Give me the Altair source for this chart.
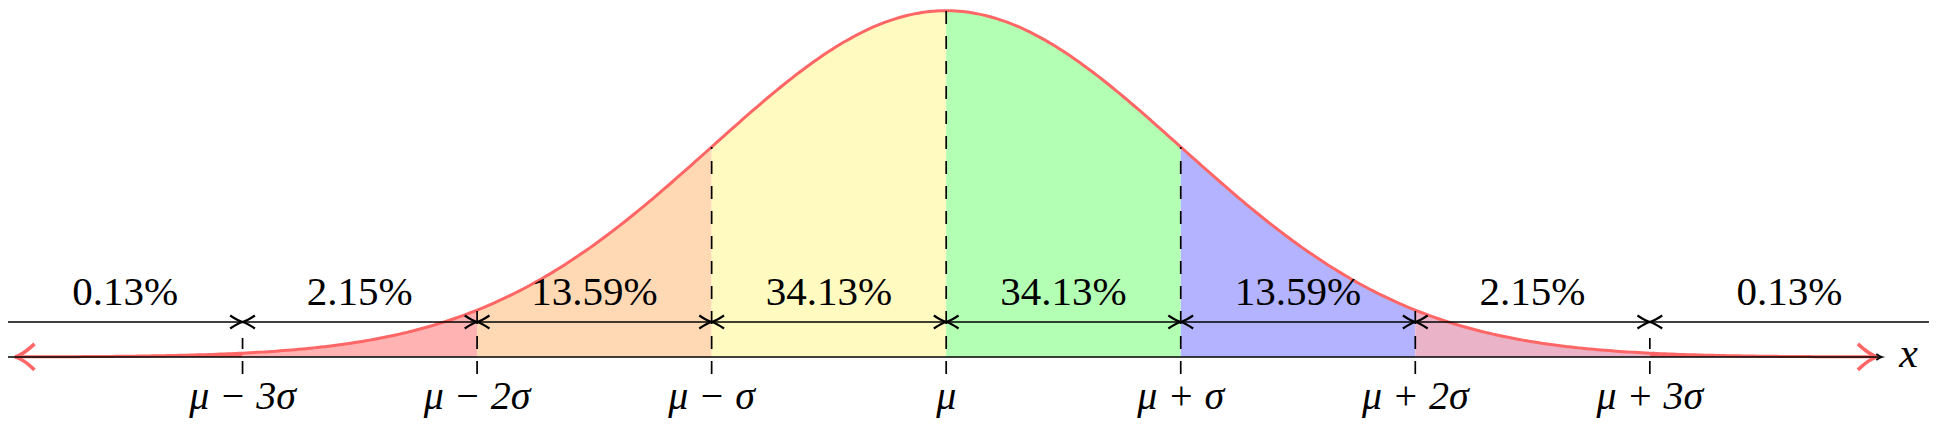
import numpy as np
import pandas as pd
import altair as alt

# ---------------- data ----------------
band_bounds = [-4.0, -3.0, -2.0, -1.0, 0.0, 1.0, 2.0, 3.0, 4.0]
band_names = ["t1", "b1", "b2", "b3", "b4", "b5", "b6", "t2"]
band_colors = ["#ff6666", "#ffb3b3", "#ffd9b3", "#fffac0",
               "#b3ffb3", "#b3b3ff", "#ebb3c8", "#ff6666"]
percent_labels = ["0.13%", "2.15%", "13.59%", "34.13%",
                  "34.13%", "13.59%", "2.15%", "0.13%"]
dim_bounds = [-4.0, -3.0, -2.0, -1.0, 0.0, 1.0, 2.0, 3.0, 4.19]
tick_values = [-3, -2, -1, 0, 1, 2, 3]
tick_labels = ["μ − 3σ", "μ − 2σ", "μ − σ", "μ", "μ + σ", "μ + 2σ", "μ + 3σ"]
curve_ends = [-3.97, 3.97]
axis_end = 3.99


def pdf(x):
    return np.exp(-0.5 * np.asarray(x, dtype=float) ** 2) / np.sqrt(2 * np.pi)


# ---------------- layout constants (page pixel rows -> data) ----------------
PX = 868.0          # pixels per density unit
BASE = 357.0        # baseline page row


def yd(row):
    return (BASE - row) / PX


X_DOMAIN = [-4.0, 4.1945]
Y_DOMAIN = [yd(418), yd(8)]
DIM_Y = yd(322)
PCT_Y = yd(305)
TICK_LABEL_Y = yd(409)
TICK_BOTTOM = yd(374)
TICK_MIN_TOP = yd(338)

xs = alt.Scale(domain=X_DOMAIN, nice=False, zero=False)
ys = alt.Scale(domain=Y_DOMAIN, nice=False, zero=False)
X = lambda f: alt.X(f, type="quantitative", scale=xs, axis=None)
Y = lambda f: alt.Y(f, type="quantitative", scale=ys, axis=None)

# areas, one layer per band
area_layers = []
for i, name in enumerate(band_names):
    bx = np.linspace(band_bounds[i], band_bounds[i + 1], 80)
    bdf = pd.DataFrame({"x": bx, "y": pdf(bx), "y0": 0.0})
    area_layers.append(
        alt.Chart(bdf).mark_area(color=band_colors[i], opacity=1, interpolate="linear").encode(
            x=X("x"), y=Y("y"), y2="y0")
    )

cx = np.linspace(curve_ends[0], curve_ends[1], 500)
curve_df = pd.DataFrame({"x": cx, "y": pdf(cx)})
curve = alt.Chart(curve_df).mark_line(color="#ff6666", strokeWidth=3).encode(
    x=X("x"), y=Y("y"))

RIGHT_PATH = "M -1.5 -1 Q -0.6 -0.15 0 0 Q -0.6 0.15 -1.5 1"
LEFT_PATH = "M 1.5 -1 Q 0.6 -0.15 0 0 Q 0.6 0.15 1.5 1"
SMALL_RIGHT = "M -1.9 -1 Q -0.7 -0.2 0 0 Q -0.7 0.2 -1.9 1"
SMALL_LEFT = "M 1.9 -1 Q 0.7 -0.2 0 0 Q 0.7 0.2 1.9 1"

red_left = alt.Chart(pd.DataFrame({"x": [curve_ends[0]], "y": pdf([curve_ends[0]])})).mark_point(
    shape=LEFT_PATH, filled=False, stroke="#ff6666", strokeWidth=3.5, size=676, opacity=1
).encode(x=X("x"), y=Y("y"))
red_right = alt.Chart(pd.DataFrame({"x": [curve_ends[1]], "y": pdf([curve_ends[1]])})).mark_point(
    shape=RIGHT_PATH, filled=False, stroke="#ff6666", strokeWidth=3.5, size=676, opacity=1
).encode(x=X("x"), y=Y("y"))

# dashed boundary lines
tops = [max(float(pdf(v)), TICK_MIN_TOP) for v in tick_values]
rule_df = pd.DataFrame({"x": tick_values, "lo": [TICK_BOTTOM] * len(tick_values), "hi": tops})
dashes = alt.Chart(rule_df).mark_rule(color="black", strokeWidth=1.7, strokeDash=[13, 12]).encode(
    x=X("x"), y=Y("lo"), y2="hi")

# x axis
axis_df = pd.DataFrame({"x": [X_DOMAIN[0]], "x2": [axis_end], "y": [0.0]})
axis_line = alt.Chart(axis_df).mark_rule(color="black", strokeWidth=1.7).encode(
    x=X("x"), x2="x2", y=Y("y"))
axis_arrow = alt.Chart(pd.DataFrame({"x": [axis_end], "y": [0.0]})).mark_point(
    shape=SMALL_RIGHT, filled=False, stroke="black", strokeWidth=1.8, size=36, opacity=1
).encode(x=X("x"), y=Y("y"))
x_label = alt.Chart(pd.DataFrame({"x": [4.063], "y": [yd(367)], "t": ["x"]})).mark_text(
    font="Liberation Serif", fontStyle="italic", fontSize=42, align="left", baseline="alphabetic",
    color="black").encode(x=X("x"), y=Y("y"), text="t:N")

# dimension line with arrows
dim_line = alt.Chart(pd.DataFrame({"x": [dim_bounds[0]], "x2": [dim_bounds[-1]], "y": [DIM_Y]})).mark_rule(
    color="black", strokeWidth=1.6).encode(x=X("x"), x2="x2", y=Y("y"))
inner = dim_bounds[1:-1]
dim_df = pd.DataFrame({"x": inner, "y": [DIM_Y] * len(inner)})
dim_r = alt.Chart(dim_df).mark_point(shape=SMALL_RIGHT, filled=False, stroke="black",
                                     strokeWidth=2.2, size=170, opacity=1).encode(x=X("x"), y=Y("y"))
dim_l = alt.Chart(dim_df).mark_point(shape=SMALL_LEFT, filled=False, stroke="black",
                                     strokeWidth=2.2, size=170, opacity=1).encode(x=X("x"), y=Y("y"))

mids = [(dim_bounds[i] + dim_bounds[i + 1]) / 2 for i in range(len(percent_labels))]
pct_df = pd.DataFrame({"x": mids, "y": [PCT_Y] * len(mids), "t": percent_labels})
pct_text = alt.Chart(pct_df).mark_text(font="Liberation Serif", fontSize=41, align="center",
                                       baseline="alphabetic", color="black").encode(
    x=X("x"), y=Y("y"), text="t:N")

tl_df = pd.DataFrame({"x": tick_values, "y": [TICK_LABEL_Y] * len(tick_values), "t": tick_labels})
tick_text = alt.Chart(tl_df).mark_text(font="Liberation Serif", fontStyle="italic", fontSize=40,
                                       align="center", baseline="alphabetic", color="black").encode(
    x=X("x"), y=Y("y"), text="t:N")

chart = alt.layer(
    *area_layers, curve, red_left, red_right, dashes, axis_line, axis_arrow, x_label,
    dim_line, dim_r, dim_l, pct_text, tick_text
).properties(width=1922, height=410, padding=0, autosize="none", background="white"
).configure_view(stroke=None)

chart.save("out.html", embed_options={"renderer": "svg", "actions": False})
